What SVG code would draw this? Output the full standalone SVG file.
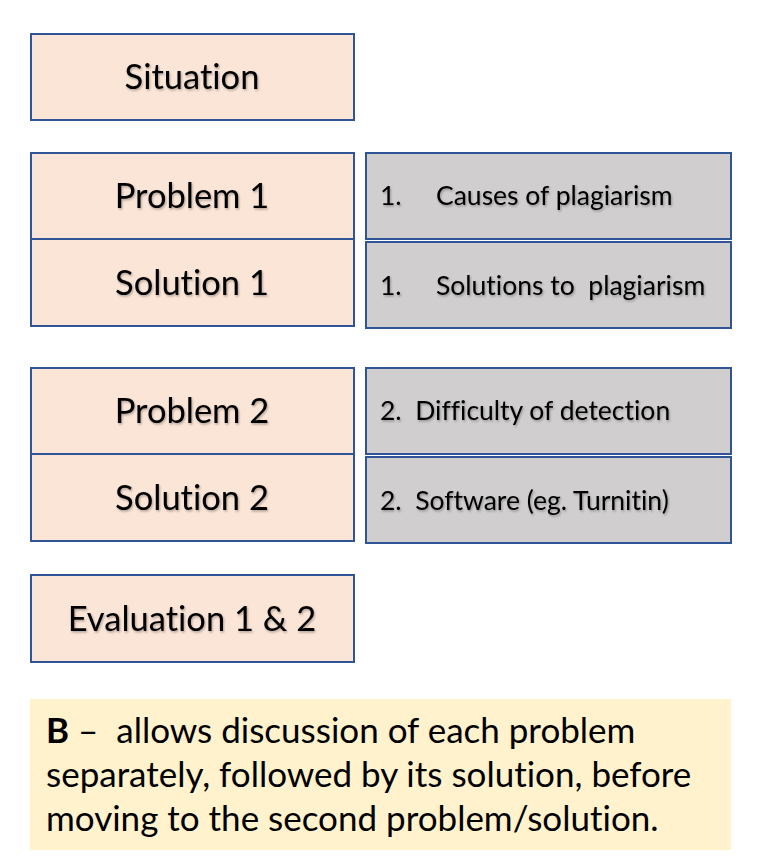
<svg xmlns="http://www.w3.org/2000/svg" width="776" height="868" viewBox="0 0 776 868">
<defs>
<filter id="sh" x="-5%" y="-20%" width="110%" height="140%">
<feDropShadow dx="1" dy="1.5" stdDeviation="1" flood-color="#000" flood-opacity="0.3"/>
</filter>
</defs>
<style>
text{font-variant-ligatures:none;font-feature-settings:"liga" 0}
.pink{fill:#fbe5d6;stroke:#2f5597;stroke-width:2}
.grey{fill:#d0cece;stroke:#2f5597;stroke-width:2}
.lbl{font-family:Lato,"Open Sans",sans-serif;font-size:34.5px;fill:#000;text-anchor:middle;filter:url(#sh)}
.rl{font-family:Lato,"Open Sans",sans-serif;font-size:26.5px;fill:#000;filter:url(#sh)}
.note{font-family:Lato,"Open Sans",sans-serif;font-size:35px;fill:#000}
</style>
<rect width="776" height="868" fill="#fff"/>
<g id="situation"><rect class="pink" x="31" y="34" width="323" height="86"/><text class="lbl" x="192" y="89">Situation</text></g>
<g id="problem1"><rect class="pink" x="31" y="153" width="323" height="86"/><text class="lbl" x="192" y="208">Problem 1</text></g>
<g id="solution1"><rect class="pink" x="31" y="239" width="323" height="87"/><text class="lbl" x="192" y="295">Solution 1</text></g>
<g id="causes"><rect class="grey" x="366" y="153" width="365" height="86"/><text class="rl" x="380" y="205">1.</text><text class="rl" x="436" y="205">Causes of plagiarism</text></g>
<g id="solutions"><rect class="grey" x="366" y="242" width="365" height="86"/><text class="rl" x="380" y="295">1.</text><text class="rl" x="436" y="295" xml:space="preserve">Solutions to  plagiarism</text></g>
<g id="problem2"><rect class="pink" x="31" y="368" width="323" height="86"/><text class="lbl" x="192" y="423">Problem 2</text></g>
<g id="solution2"><rect class="pink" x="31" y="454" width="323" height="87"/><text class="lbl" x="192" y="510">Solution 2</text></g>
<g id="difficulty"><rect class="grey" x="366" y="368" width="365" height="86"/><text class="rl" x="380" y="420" xml:space="preserve">2.  Difficulty of detection</text></g>
<g id="software"><rect class="grey" x="366" y="457" width="365" height="86"/><text class="rl" x="380" y="510" xml:space="preserve">2.  Software (eg. Turnitin)</text></g>
<g id="evaluation"><rect class="pink" x="31" y="575" width="323" height="87"/><text class="lbl" x="192" y="631">Evaluation 1 &amp; 2</text></g>
<g id="note"><rect x="30" y="699" width="701" height="151" fill="#fff2cc"/>
<text class="note" x="46" y="743" xml:space="preserve"><tspan font-weight="bold">B</tspan> –  allows discussion of each problem</text>
<text class="note" x="46" y="787">separately, followed by its solution, before</text>
<text class="note" x="46" y="831">moving to the second problem/solution.</text>
</g>
<g id="connectors"></g>
</svg>
